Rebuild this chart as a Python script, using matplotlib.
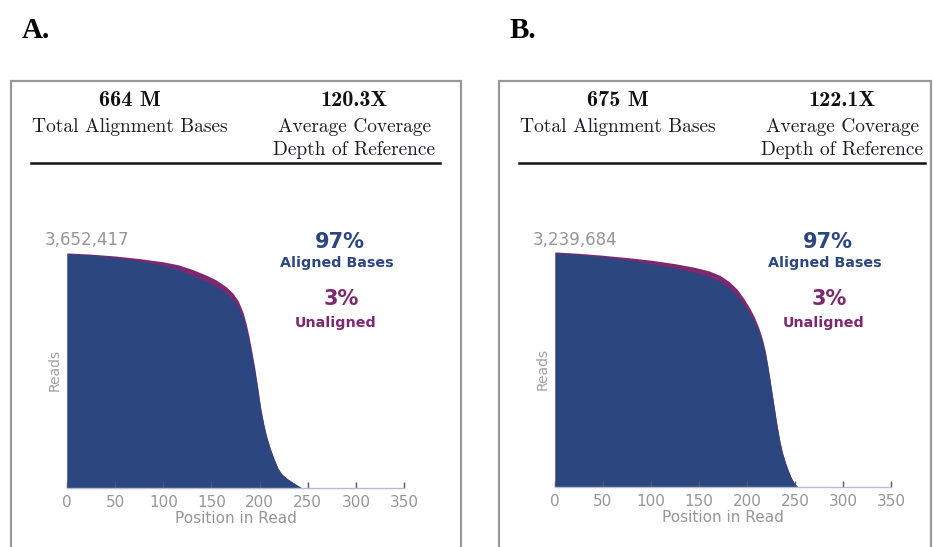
import matplotlib.pyplot as plt
from matplotlib.patches import Rectangle
from matplotlib.lines import Line2D

W, H = 933, 547

# read-length coverage, run A
pos_a = [0, 25, 50, 75, 100, 115, 130, 145, 155, 165, 172, 178, 183, 186,
         189, 192, 195, 198, 201, 204, 207, 211, 215, 219, 223, 228, 236, 244]
total_a = [3652417, 3634000, 3605000, 3565000, 3514000, 3470000, 3397000,
           3305000, 3232000, 3130000, 3032000, 2904000, 2721000, 2557000,
           2356000, 2118000, 1863000, 1571000, 1260000, 1023000, 822000,
           621000, 457000, 310000, 219000, 153000, 73000, 0]
aligned_a = [3641000, 3616000, 3579000, 3528000, 3459000, 3397000, 3305000,
             3207000, 3134000, 3032000, 2933000, 2812000, 2641000, 2484000,
             2290000, 2064000, 1819000, 1534000, 1231000, 1004000, 807000,
             610000, 449000, 307000, 215000, 150000, 73000, 0]

# read-length coverage, run B
pos_b = [0, 25, 50, 75, 100, 125, 145, 160, 172, 182, 190, 197, 203, 208,
         212, 216, 219, 222, 225, 228, 231, 234, 237, 240, 243, 246, 249, 253]
total_b = [3239684, 3220000, 3194000, 3162000, 3126000, 3078000, 3029000,
           2980000, 2916000, 2825000, 2721000, 2592000, 2462000, 2333000,
           2203000, 2041000, 1879000, 1652000, 1393000, 1134000, 875000,
           648000, 470000, 340000, 227000, 130000, 58000, 0]
aligned_b = [3230000, 3204000, 3172000, 3130000, 3078000, 3019000, 2961000,
             2903000, 2835000, 2738000, 2634000, 2511000, 2388000, 2268000,
             2148000, 1999000, 1847000, 1626000, 1377000, 1121000, 865000,
             641000, 467000, 337000, 227000, 130000, 58000, 0]

summary_a = {"bases": "664 M", "depth": "120.3X", "aligned": "97%", "unaligned": "3%"}
summary_b = {"bases": "675 M", "depth": "122.1X", "aligned": "97%", "unaligned": "3%"}

xticks = [0, 50, 100, 150, 200, 250, 300, 350]

BLUE = "#2c4680"
PURPLE = "#7e2870"
GREY = "#969696"


def fx(px):
    return px / W


def fy(py):
    return 1 - py / H


fig = plt.figure(figsize=(W / 100, H / 100), dpi=100)


def panel(letter, ox, box_w, rule, ax_rect, pos, total, aligned, s):
    fig.text(fx(ox + 11), fy(30), letter, family="Liberation Serif",
             weight="bold", fontsize=21, va="center", ha="left")
    fig.patches.append(Rectangle((fx(ox), fy(600)), fx(box_w), fy(81) - fy(600),
                                 transform=fig.transFigure, fill=False,
                                 edgecolor="#9a9a9a", linewidth=1.6, clip_on=False))
    fig.lines.append(Line2D([fx(ox + rule[0]), fx(ox + rule[1])], [fy(163), fy(163)],
                            transform=fig.transFigure, color="#111111", linewidth=1.8))
    c1, c2 = ox + 119, ox + 343
    fig.text(fx(c1), fy(100), s["bases"], family="cmb10", fontsize=16,
             ha="center", va="center", color="#111111")
    fig.text(fx(c1), fy(127), "Total Alignment Bases", family="cmr10", fontsize=14,
             ha="center", va="center", color="#1c1c2c")
    fig.text(fx(c2), fy(100), s["depth"], family="cmb10", fontsize=16,
             ha="center", va="center", color="#111111")
    fig.text(fx(c2), fy(127), "Average Coverage", family="cmr10", fontsize=14,
             ha="center", va="center", color="#1c1c2c")
    fig.text(fx(c2), fy(150), "Depth of Reference", family="cmr10", fontsize=14,
             ha="center", va="center", color="#1c1c2c")

    ax = fig.add_axes(ax_rect)
    ax.fill_between(pos, 0, total, color=PURPLE, linewidth=0)
    ax.fill_between(pos, 0, aligned, color=BLUE, linewidth=0)
    ax.set_xlim(0, 350)
    ax.set_ylim(0, total[0] * 1.004)
    for side in ("top", "right", "left"):
        ax.spines[side].set_visible(False)
    ax.spines["bottom"].set_color("#b4bccf")
    ax.spines["bottom"].set_linewidth(1.0)
    ax.set_yticks([])
    ax.set_xticks(xticks)
    ax.tick_params(axis="x", direction="in", length=4, width=1, color="#555566",
                   labelsize=11, labelcolor=GREY, pad=5)
    ax.set_xlabel("Position in Read", fontsize=11, color=GREY, labelpad=1)
    ax.set_ylabel("Reads", fontsize=10, color="#a0a0a0", labelpad=4)
    fig.text(fx(ox + 34), fy(240), f"{total[0]:,}", fontsize=12, color=GREY,
             ha="left", va="center")

    cx = ax_rect[0] * W + 273
    fig.text(fx(cx), fy(242), s["aligned"], fontsize=15, weight="bold",
             color=BLUE, ha="center", va="center")
    fig.text(fx(cx - 3), fy(263), "Aligned Bases", fontsize=10.3, weight="bold",
             color=BLUE, ha="center", va="center")
    fig.text(fx(cx + 1), fy(299), s["unaligned"], fontsize=15, weight="bold",
             color=PURPLE, ha="center", va="center")
    fig.text(fx(cx - 4), fy(323), "Unaligned", fontsize=10.3, weight="bold",
             color=PURPLE, ha="center", va="center")
    return ax


panel("A.", 11, 450, (20, 429), [fx(67), fy(488), fx(404) - fx(67), fy(252) - fy(488)],
      pos_a, total_a, aligned_a, summary_a)
panel("B.", 499, 432, (20, 426), [fx(555), fy(487), fx(891) - fx(555), fy(251) - fy(487)],
      pos_b, total_b, aligned_b, summary_b)

fig.savefig("out.png", dpi=100)
